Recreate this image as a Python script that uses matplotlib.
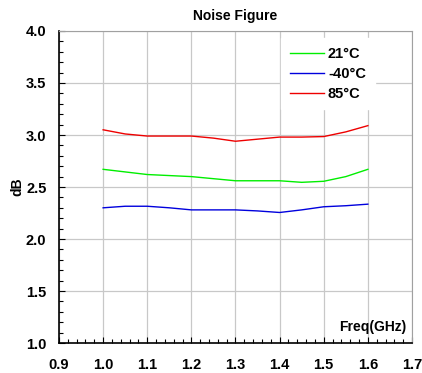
import matplotlib
matplotlib.use("Agg")
import matplotlib.pyplot as plt
from matplotlib.ticker import MultipleLocator

freq = [1.0, 1.05, 1.1, 1.15, 1.2, 1.25, 1.3, 1.35, 1.4, 1.45, 1.5, 1.55, 1.6]
nf_21 = [2.67, 2.645, 2.62, 2.61, 2.60, 2.58, 2.56, 2.56, 2.56, 2.545, 2.555, 2.60, 2.67]
nf_m40 = [2.30, 2.315, 2.315, 2.30, 2.28, 2.28, 2.28, 2.27, 2.255, 2.28, 2.31, 2.32, 2.335]
nf_85 = [3.05, 3.01, 2.99, 2.99, 2.99, 2.97, 2.94, 2.96, 2.98, 2.98, 2.985, 3.03, 3.09]
labels = ["21°C", "-40°C", "85°C"]

plt.rcParams['font.family'] = ['Liberation Sans', 'DejaVu Sans']
plt.rcParams['font.weight'] = 'bold'

fig = plt.figure(figsize=(4.22, 3.73), dpi=100)
ax = fig.add_axes([0.1398, 0.0804, 0.8365, 0.8365])

ax.plot(freq, nf_21, color='#00ee00', lw=1.0, label=labels[0])
ax.plot(freq, nf_m40, color='#0000dd', lw=1.0, label=labels[1])
ax.plot(freq, nf_85, color='#ee0000', lw=1.0, label=labels[2])

ax.set_xlim(0.9, 1.7)
ax.set_ylim(1.0, 4.0)
ax.xaxis.set_minor_locator(MultipleLocator(0.02))
ax.yaxis.set_minor_locator(MultipleLocator(0.1))
ax.set_xticks([0.9 + 0.1 * i for i in range(9)])
ax.set_xticklabels([f"{0.9 + 0.1 * i:.1f}" for i in range(9)])
ax.set_yticks([1.0 + 0.5 * i for i in range(7)])
ax.set_yticklabels([f"{1.0 + 0.5 * i:.1f}" for i in range(7)])

ax.tick_params(axis='both', which='both', direction='in', labelsize=10.5)
ax.tick_params(axis='both', which='major', length=4, width=0.8)
ax.tick_params(axis='both', which='minor', length=3, width=0.8)
ax.tick_params(axis='x', which='major', pad=11)
ax.tick_params(axis='y', which='major', pad=9)
for lab in ax.get_xticklabels() + ax.get_yticklabels():
    lab.set_fontweight('bold')

ax.grid(True, which='major', color='#c8c8c8', lw=0.9)
ax.set_axisbelow(True)
for s in ['top', 'right']:
    ax.spines[s].set_color('#a0a0a0')
for s in ['left', 'bottom']:
    ax.spines[s].set_color('black')
    ax.spines[s].set_linewidth(1.2)

ax.set_title("Noise Figure", fontsize=10, fontweight='bold', pad=8)
ax.set_ylabel("dB", fontsize=10, fontweight='bold', labelpad=1)
ax.text(0.985, 0.03, "Freq(GHz)", transform=ax.transAxes, ha='right', va='bottom',
        fontsize=10, fontweight='bold')

leg = ax.legend(loc='upper right', bbox_to_anchor=(0.915, 1.0), frameon=True,
                fontsize=10.5, handlelength=2.3, handletextpad=0.3,
                labelspacing=0.4, borderpad=0.6)
leg.get_frame().set_edgecolor('white')
leg.get_frame().set_facecolor('white')
leg.get_frame().set_alpha(1.0)
leg.get_frame().set_boxstyle('square', pad=0)
for t in leg.get_texts():
    t.set_fontweight('bold')

fig.savefig("out.png", dpi=100)
